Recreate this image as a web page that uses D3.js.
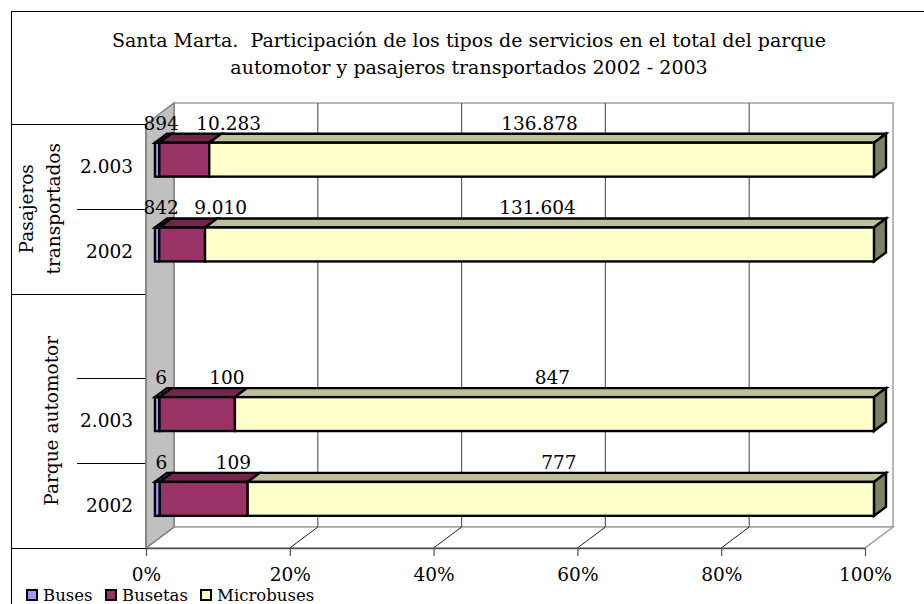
<!DOCTYPE html>
<html><head><meta charset="utf-8">
<script src="https://cdn.jsdelivr.net/npm/d3@7"></script>
<style>body{margin:0;background:#fff}svg{display:block}text{font-family:"DejaVu Serif",serif;fill:#000;white-space:pre}</style>
</head><body><svg id="c" width="924" height="604"></svg>
<script>
const titleLines = ["Santa Marta.  Participación de los tipos de servicios en el total del parque",
                    "automotor y pasajeros transportados 2002 - 2003"];
const groups = ["Pasajeros transportados", "Parque automotor"];
const groupLabelLines = [["Pasajeros", "transportados"], ["Parque automotor"]];
const categories = ["2.003", "2002", "", "2.003", "2002"];
const categoryGroup = [0, 0, 1, 1, 1];
const seriesNames = ["Buses", "Busetas", "Microbuses"];
const buses = [894, 842, null, 6, 6];
const busetas = [10283, 9010, null, 100, 109];
const microbuses = [136878, 131604, null, 847, 777];
const xTicks = [0, 0.2, 0.4, 0.6, 0.8, 1];

const colors = {
  Buses: {front: "#9999ff", top: "#7373bf", side: "#4d4d80"},
  Busetas: {front: "#993366", top: "#73264d", side: "#4d1a33"},
  Microbuses: {front: "#ffffcc", top: "#bfbf99", side: "#808066"}
};
const labelPlace = {Buses: {anchor: "middle", dx: 4}, Busetas: {anchor: "start", dx: 12}, Microbuses: {anchor: "middle", dx: -2}};

const svg = d3.select("#c");
const FS = 18.5;
const plot = {left: 146, right: 865, top: 124, bottom: 548, ddx: 28, ddy: 21};
const barZ0 = 0.32, barZ1 = 0.75;

const x = d3.scaleLinear().domain([0, 1]).range([plot.left, plot.right]);
const y = d3.scaleBand().domain(d3.range(categories.length)).range([plot.top, plot.bottom]);

svg.append("rect").attr("x", 11.5).attr("y", 11.5).attr("width", 940).attr("height", 620)
  .attr("fill", "#fff").attr("stroke", "#000").attr("stroke-width", 1);

svg.append("g").selectAll("text").data(titleLines).join("text")
  .attr("x", 469).attr("y", (d, i) => 47 + i * 27).attr("text-anchor", "middle")
  .attr("font-size", 19).text(d => d);

const gray = "#808080";
svg.append("rect").attr("x", plot.left + plot.ddx).attr("y", plot.top - plot.ddy)
  .attr("width", plot.right - plot.left).attr("height", plot.bottom - plot.top)
  .attr("fill", "#fff").attr("stroke", "#a0a0a0").attr("stroke-width", 1.5);
svg.append("polygon").attr("points", [[plot.left, plot.bottom], [plot.right, plot.bottom], [plot.right + plot.ddx, plot.bottom - plot.ddy], [plot.left + plot.ddx, plot.bottom - plot.ddy]].join(" "))
  .attr("fill", "#fff").attr("stroke", "#a0a0a0").attr("stroke-width", 1.5);
svg.append("polygon").attr("points", [[plot.left, plot.top], [plot.left + plot.ddx, plot.top - plot.ddy], [plot.left + plot.ddx, plot.bottom - plot.ddy], [plot.left, plot.bottom]].join(" "))
  .attr("fill", "#c0c0c0").attr("stroke", gray).attr("stroke-width", 1.5);

const grid = svg.append("g").attr("stroke", "#606060").attr("stroke-width", 1.2);
grid.selectAll("line.v").data(xTicks.slice(1, -1)).join("line")
  .attr("x1", d => x(d) + plot.ddx).attr("x2", d => x(d) + plot.ddx)
  .attr("y1", plot.top - plot.ddy).attr("y2", plot.bottom - plot.ddy);
grid.selectAll("line.f").data(xTicks.slice(1)).join("line")
  .attr("x1", d => x(d)).attr("x2", d => x(d) + plot.ddx)
  .attr("y1", plot.bottom).attr("y2", plot.bottom - plot.ddy)
  .attr("stroke", d => d === 1 ? "#a0a0a0" : "#202020").attr("stroke-width", 1);

const xAxis = d3.axisBottom(x).tickValues(xTicks).tickFormat(d3.format(".0%")).tickSize(8).tickPadding(12).tickSizeOuter(0);
const gx = svg.append("g").attr("transform", `translate(0,${plot.bottom})`).call(xAxis);
gx.select(".domain").attr("stroke", "#505050").attr("stroke-width", 1.5);
gx.selectAll(".tick line").attr("stroke", "#505050").attr("stroke-width", 1.2);
gx.selectAll("text").attr("font-size", FS).attr("font-family", "DejaVu Serif");

const yAxis = d3.axisLeft(y).tickFormat(i => categories[i]).tickSize(0).tickPadding(13);
const gy = svg.append("g").attr("transform", `translate(${plot.left},0)`).call(yAxis);
gy.select(".domain").remove();
gy.selectAll("text").attr("font-size", FS).attr("font-family", "DejaVu Serif").attr("dy", "0.35em");

const boundaries = d3.range(categories.length + 1).map(i => i < categories.length ? y(i) : plot.bottom);
const catLines = svg.append("g").attr("stroke", "#000").attr("stroke-width", 1);
boundaries.forEach((b, i) => {
  const isGroupEdge = i === 0 || i === categories.length || categoryGroup[i] !== categoryGroup[i - 1];
  catLines.append("line").attr("x1", isGroupEdge ? 11 : 77).attr("x2", plot.left)
    .attr("y1", Math.round(b) + 0.5).attr("y2", Math.round(b) + 0.5);
});
svg.append("line").attr("x1", plot.left).attr("x2", plot.left).attr("y1", plot.top).attr("y2", plot.bottom)
  .attr("stroke", gray).attr("stroke-width", 1.5);

groups.forEach((g, gi) => {
  const idx = d3.range(categories.length).filter(i => categoryGroup[i] === gi);
  const y0 = y(idx[0]), y1 = y(idx[idx.length - 1]) + y.bandwidth();
  const cy = (y0 + y1) / 2;
  const lines = groupLabelLines[gi];
  const baseX = lines.length === 1 ? 58 : 33;
  lines.forEach((ln, li) => {
    svg.append("text").attr("transform", `translate(${baseX + li * 27},${cy}) rotate(-90)`)
      .attr("text-anchor", "middle").attr("font-size", FS).text(ln);
  });
});

const rows = categories.map((c, i) => ({i, Buses: buses[i], Busetas: busetas[i], Microbuses: microbuses[i]}))
  .filter(r => r.Buses != null);
const stack = d3.stack().keys(seriesNames).offset(d3.stackOffsetExpand);
const stacked = stack(rows);

const fdx = barZ0 * plot.ddx, fdy = barZ0 * plot.ddy;
const tdx = (barZ1 - barZ0) * plot.ddx, tdy = (barZ1 - barZ0) * plot.ddy;
const barH = y.bandwidth() * 0.4;
const fmt = d3.formatLocale({decimal: ",", thousands: ".", grouping: [3], currency: ["$", ""]}).format(",d");

const barsG = svg.append("g").attr("stroke", "#000").attr("stroke-width", 2.4).attr("stroke-linejoin", "miter");
const labelsG = svg.append("g");
stacked.forEach((s, si) => {
  const col = colors[s.key];
  s.forEach(d => {
    const r = d.data;
    const xa = x(d[0]) + fdx, xb = x(d[1]) + fdx;
    const yt = y(r.i) + y.bandwidth() / 2 - fdy - barH / 2, yb = yt + barH;
    barsG.append("polygon").attr("points", [[xa, yt], [xb, yt], [xb + tdx, yt - tdy], [xa + tdx, yt - tdy]].join(" "))
      .attr("fill", col.top);
    if (si === stacked.length - 1) {
      barsG.append("polygon").attr("points", [[xb, yt], [xb + tdx, yt - tdy], [xb + tdx, yb - tdy], [xb, yb]].join(" "))
        .attr("fill", col.side);
    }
    barsG.append("rect").attr("x", xa).attr("y", yt).attr("width", xb - xa).attr("height", barH)
      .attr("fill", col.front);
    const lp = labelPlace[s.key];
    labelsG.append("text").attr("x", (xa + xb) / 2 + lp.dx).attr("y", yt - tdy - 4)
      .attr("text-anchor", lp.anchor).attr("font-size", FS).text(fmt(r[s.key]));
  });
});

const legendX = [27, 106, 201];
const lg = svg.append("g");
seriesNames.forEach((n, i) => {
  lg.append("rect").attr("x", legendX[i]).attr("y", 590).attr("width", 10).attr("height", 10)
    .attr("fill", colors[n].front).attr("stroke", "#000").attr("stroke-width", 2);
  lg.append("text").attr("x", legendX[i] + 16).attr("y", 601).attr("font-size", 16.5).text(n);
});
</script></body></html>
